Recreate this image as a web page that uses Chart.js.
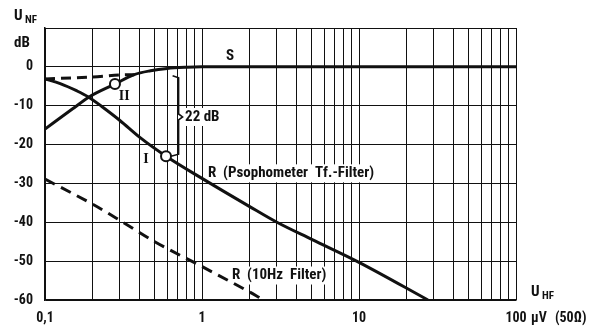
<!DOCTYPE html>
<html>
<head>
<meta charset="utf-8">
<script src="https://cdn.jsdelivr.net/npm/chart.js@4.4.0/dist/chart.umd.min.js"></script>
<style>
  html, body { margin: 0; padding: 0; background: #fff; }
  canvas { display: block; }
</style>
</head>
<body>
<canvas id="chart" width="590" height="326"></canvas>
<script>
// --- data (U_HF in µV, U_NF in dB) ---
const xTickValues = [0.1, 0.2, 0.3, 0.4, 0.5, 0.6, 0.7, 0.8, 0.9,
                     1, 2, 3, 4, 5, 6, 7, 8, 9,
                     10, 20, 30, 40, 50, 60, 70, 80, 90, 100];
const xTickLabels = { 0.1: "0,1", 1: "1", 10: "10", 100: "100" };
const yTickValues = [-60, -50, -40, -30, -20, -10, 0, 10];

// S (signal)
const sX = [0.1, 0.15, 0.19, 0.28, 0.37, 0.47, 0.6, 0.8, 1, 100];
const sY = [-16, -10.8, -7.8, -4.4, -2.0, -1.0, -0.4, -0.1, 0, 0];

// dashed upper branch
const dX = [0.1, 0.2, 0.3, 0.37];
const dY = [-3.1, -2.6, -2.1, -2.0];

// R (Psophometer Tf.-Filter)
const rX = [0.1, 0.125, 0.16, 0.19, 0.23, 0.3, 0.4, 0.59, 1, 2, 3, 5, 10, 27.5];
const rY = [-3.1, -4.3, -6.2, -7.8, -10.2, -13.8, -18.1, -23, -28.7, -35.9, -40, -44.4, -50.3, -60];

// R (10Hz Filter)
const tX = [0.1, 0.2, 0.3, 0.5, 1, 2, 2.35];
const tY = [-28.9, -35.3, -39.5, -45, -51.4, -57.9, -59.5];

// marked points I and II
const markX = [0.279, 0.59];
const markY = [-4.4, -23];

const FONT = '"Liberation Sans Narrow", "Roboto Condensed", "DejaVu Sans Condensed", Roboto, sans-serif';
const SERIF = '"Liberation Serif", "DejaVu Serif", serif';

function pts(xs, ys) {
  return xs.map((x, i) => ({ x: x, y: ys[i] }));
}

// text notes in data coordinates
const notes = [
  { text: "S", x: 1.51, y: 2.8, align: "center", font: "bold 15px " + FONT },
  { text: "II", x: 0.32, y: -7.5, align: "center", font: "bold 14px " + SERIF },
  { text: "I", x: 0.44, y: -23.8, align: "center", font: "bold 14px " + SERIF },
  { text: "22 dB", x: 0.78, y: -12.9, align: "left", font: "bold 15px " + FONT },
  { text: "R  (Psophometer  Tf.-Filter)", x: 1.09, y: -27.4, align: "left", font: "bold 15px " + FONT },
  { text: "R  (10Hz  Filter)", x: 1.55, y: -53.7, align: "left", font: "bold 15px " + FONT }
];

const notesPlugin = {
  id: "notes",
  beforeDatasetsDraw(chart) {
    const ctx = chart.ctx, xs = chart.scales.x, ys = chart.scales.y;
    ctx.save();
    ctx.fillStyle = "#fff";
    notes.forEach(n => {
      ctx.font = n.font;
      const w = ctx.measureText(n.text).width;
      const px = xs.getPixelForValue(n.x), py = ys.getPixelForValue(n.y);
      const left = n.align === "center" ? px - w / 2 : px;
      ctx.fillRect(left - 3, py - 9, w + 6, 18);
    });
    ctx.restore();
  },
  afterDatasetsDraw(chart) {
    const ctx = chart.ctx, xs = chart.scales.x, ys = chart.scales.y;
    ctx.save();
    ctx.fillStyle = "#111";
    ctx.textBaseline = "middle";
    notes.forEach(n => {
      ctx.font = n.font;
      ctx.textAlign = n.align;
      ctx.fillText(n.text, xs.getPixelForValue(n.x), ys.getPixelForValue(n.y));
    });

    // brace for the 22 dB gap
    const bx = xs.getPixelForValue(0.72);
    const top = ys.getPixelForValue(-2.3), bot = ys.getPixelForValue(-23);
    const mid = ys.getPixelForValue(-12.9);
    ctx.strokeStyle = "#111";
    ctx.lineWidth = 1.6;
    ctx.beginPath();
    ctx.moveTo(bx - 7, top);
    ctx.lineTo(bx - 1, top + 2);
    ctx.lineTo(bx - 1, mid - 3);
    ctx.lineTo(bx + 3, mid);
    ctx.lineTo(bx - 1, mid + 3);
    ctx.lineTo(bx - 1, bot - 2);
    ctx.lineTo(xs.getPixelForValue(0.59) + 5, bot);
    ctx.stroke();

    // axis titles
    ctx.textAlign = "left";
    ctx.font = "bold 15px " + FONT;
    ctx.fillText("U", 14, 16);
    ctx.fillText("dB", 14, 43);
    ctx.fillText("U", 531, 292);
    ctx.font = "bold 11px " + FONT;
    ctx.fillText("NF", 25, 20);
    ctx.fillText("HF", 542, 296);
    ctx.font = "bold 14px " + FONT;
    ctx.fillText("\u00b5V", 531, 318);
    ctx.fillText("(50\u03a9)", 555, 318);
    ctx.restore();
  }
};

const lineStyle = {
  borderColor: "#111",
  borderWidth: 3,
  pointRadius: 0,
  fill: false,
  cubicInterpolationMode: "monotone",
  order: 1
};

new Chart(document.getElementById("chart").getContext("2d"), {
  type: "line",
  data: {
    datasets: [
      Object.assign({ label: "S", data: pts(sX, sY) }, lineStyle),
      Object.assign({ label: "dashed", data: pts(dX, dY), borderDash: [10, 6] }, lineStyle),
      Object.assign({ label: "R Psophometer", data: pts(rX, rY) }, lineStyle),
      Object.assign({ label: "R 10Hz", data: pts(tX, tY), borderDash: [11, 7] }, lineStyle),
      {
        label: "marks",
        data: pts(markX, markY),
        showLine: false,
        pointRadius: 5,
        pointBackgroundColor: "#fff",
        pointBorderColor: "#111",
        pointBorderWidth: 2,
        order: 0
      }
    ]
  },
  options: {
    responsive: false,
    animation: false,
    layout: { padding: { top: 28, right: 74, left: 0, bottom: 0 } },
    plugins: { legend: { display: false }, tooltip: { enabled: false } },
    scales: {
      x: {
        type: "logarithmic",
        min: 0.1,
        max: 100,
        afterBuildTicks: scale => { scale.ticks = xTickValues.map(v => ({ value: v })); },
        afterFit: scale => { scale.height = 26; },
        ticks: {
          autoSkip: false,
          maxRotation: 0,
          padding: 10,
          color: "#111",
          font: { family: FONT, size: 14, weight: "bold" },
          callback: v => xTickLabels[v] || ""
        },
        grid: { color: "#111", lineWidth: 1, drawTicks: false },
        border: { color: "#111", width: 1.5 }
      },
      y: {
        min: -60,
        max: 10,
        afterBuildTicks: scale => { scale.ticks = yTickValues.map(v => ({ value: v })); },
        afterFit: scale => { scale.width = 45; },
        ticks: {
          padding: 12,
          color: "#111",
          font: { family: FONT, size: 14, weight: "bold" },
          callback: v => (v === 10 ? "" : String(v))
        },
        grid: { color: "#111", lineWidth: 1, drawTicks: false },
        border: { color: "#111", width: 1.5 }
      }
    }
  },
  plugins: [notesPlugin]
});
</script>
</body>
</html>
